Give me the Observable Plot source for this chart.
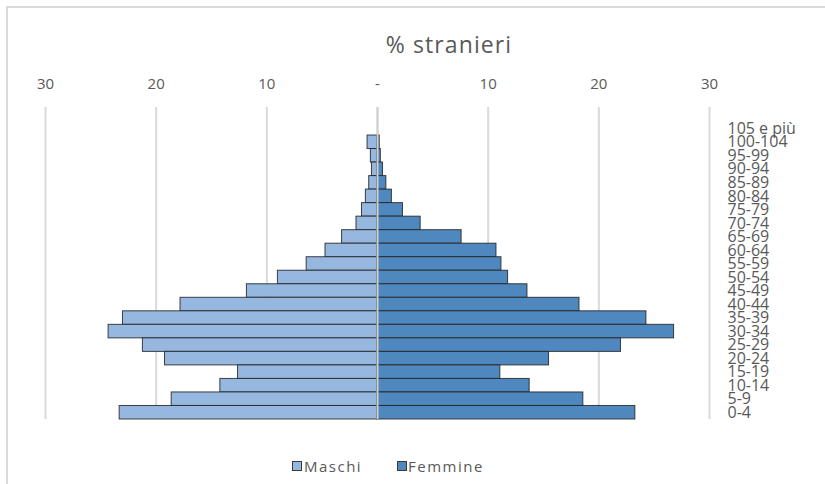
<!DOCTYPE html>
<html>
<head>
<meta charset="utf-8">
<script src="https://cdn.jsdelivr.net/npm/d3@7"></script>
<script src="https://cdn.jsdelivr.net/npm/@observablehq/plot@0.6"></script>
<style>
  html, body { margin: 0; padding: 0; background: #fff; }
  #wrap { position: relative; width: 825px; height: 484px; overflow: hidden; font-family: "Open Sans", sans-serif; color: #595959; }
  #border { position: absolute; left: 6px; top: 6px; width: 900px; height: 600px; border-top: 2px solid #d9d9d9; border-left: 2px solid #d9d9d9; box-sizing: border-box; }
  #title { position: absolute; left: 0; width: 898px; top: 28px; text-align: center; font-size: 23px; letter-spacing: 1.1px; line-height: 32px; }
  #chart { position: absolute; left: 0; top: 0; }
  .leg { position: absolute; top: 456px; font-size: 15px; letter-spacing: 1.5px; line-height: 20px; }
  .sw { position: absolute; width: 8px; height: 8px; border: 1px solid #3a3a3a; top: 461px; }
</style>
</head>
<body>
<div id="wrap">
  <div id="border"></div>
  <div id="title">% stranieri</div>
  <div id="chart"></div>
  <div class="sw" id="sw1"></div>
  <div class="leg" style="left:304px">Maschi</div>
  <div class="sw" id="sw2"></div>
  <div class="leg" style="left:408px">Femmine</div>
</div>
<script>
const ageGroups = ["105 e più","100-104","95-99","90-94","85-89","80-84","75-79","70-74","65-69","60-64","55-59","50-54","45-49","40-44","35-39","30-34","25-29","20-24","15-19","10-14","5-9","0-4"];
const maschi  = [0, 0.9, 0.6, 0.5, 0.75, 1.05, 1.4, 1.9, 3.2, 4.7, 6.4, 9.0, 11.8, 17.8, 23.0, 24.3, 21.2, 19.2, 12.6, 14.2, 18.6, 23.3];
const femmine = [0, 0.2, 0.3, 0.5, 0.8, 1.3, 2.3, 3.9, 7.6, 10.75, 11.2, 11.8, 13.55, 18.25, 24.3, 26.8, 22.0, 15.5, 11.1, 13.75, 18.6, 23.3];
const xTicks = [-30, -20, -10, 0, 10, 20, 30];
const seriesNames = ["Maschi", "Femmine"];
const colors = ["#95b7e0", "#4f88bf"];

const rows = [];
ageGroups.forEach((g, i) => {
  rows.push({age: g, sex: seriesNames[0], x1: -maschi[i], x2: 0});
  rows.push({age: g, sex: seriesNames[1], x1: 0, x2: femmine[i]});
});

document.getElementById("sw1").style.cssText = `left:292px;background:${colors[0]}`;
document.getElementById("sw2").style.cssText = `left:397px;background:${colors[1]}`;

const chart = Plot.plot({
  width: 825,
  height: 484,
  marginTop: 107,
  marginBottom: 65,
  marginLeft: 45,
  marginRight: 116,
  style: {fontFamily: "Open Sans, sans-serif", color: "#595959", background: "transparent", overflow: "visible"},
  x: {domain: [-30, 30]},
  y: {domain: ageGroups, range: [121.5, 419], padding: 0, round: false},
  color: {domain: seriesNames, range: colors},
  marks: [
    Plot.gridX(xTicks, {stroke: "#d9d9d9", strokeOpacity: 1, strokeWidth: 2}),
    Plot.barX(rows.filter(d => d.x2 - d.x1 > 0), {y: "age", x1: "x1", x2: "x2", fill: "sex", stroke: "#222", strokeOpacity: 0.85, strokeWidth: 1, insetTop: 0, insetBottom: 0}),
    Plot.ruleX([0], {stroke: "#d0d0d0", strokeWidth: 2}),
    Plot.axisX({anchor: "top", ticks: xTicks, tickSize: 0, tickPadding: 19, fontSize: 15, label: null,
      tickFormat: d => d === 0 ? "-" : String(Math.abs(d))}),
    Plot.axisY({anchor: "right", tickSize: 0, tickPadding: 18, fontSize: 16, label: null, textAnchor: "start"})
  ]
});
document.getElementById("chart").appendChild(chart);
</script>
</body>
</html>
